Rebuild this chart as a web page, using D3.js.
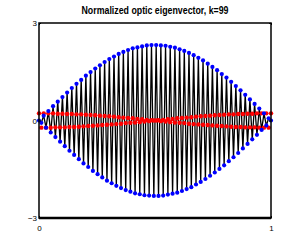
<!DOCTYPE html>
<html>
<head>
<meta charset="utf-8">
<script src="https://cdn.jsdelivr.net/npm/d3@7"></script>
<style>
  body { margin: 0; background: #fff; }
  svg { display: block; }
  .tick text { font-family: "Liberation Sans", Arial, sans-serif; font-size: 8px; }
</style>
</head>
<body>
<svg id="chart" width="300" height="245"></svg>
<script>
// blue component of eigenvector k=99
const blueValues = [
  0, -0.07, 0.15, -0.22, 0.29, -0.37, 0.44, -0.51, 0.58, -0.65,
  0.72, -0.79, 0.86, -0.93, 1.00, -1.06, 1.13, -1.19, 1.25, -1.32,
  1.38, -1.43, 1.49, -1.55, 1.60, -1.65, 1.70, -1.75, 1.80, -1.85,
  1.89, -1.93, 1.97, -2.01, 2.05, -2.08, 2.11, -2.14, 2.17, -2.19,
  2.22, -2.24, 2.25, -2.27, 2.28, -2.30, 2.31, -2.31, 2.32, -2.32,
  2.32, -2.32, 2.31, -2.31, 2.30, -2.28, 2.27, -2.25, 2.24, -2.22,
  2.19, -2.17, 2.14, -2.11, 2.08, -2.05, 2.01, -1.97, 1.93, -1.89,
  1.85, -1.80, 1.75, -1.70, 1.65, -1.60, 1.55, -1.49, 1.43, -1.38,
  1.32, -1.25, 1.19, -1.13, 1.06, -1.00, 0.93, -0.86, 0.79, -0.72,
  0.65, -0.58, 0.51, -0.44, 0.37, -0.29, 0.22, -0.15, 0.07, 0
];
// red component
const redValues = [
  0.22, -0.22, 0.22, -0.22, 0.22, -0.22, 0.22, -0.21, 0.21, -0.21,
  0.21, -0.21, 0.20, -0.20, 0.20, -0.20, 0.19, -0.19, 0.19, -0.18,
  0.18, -0.17, 0.17, -0.16, 0.16, -0.15, 0.15, -0.14, 0.14, -0.13,
  0.13, -0.12, 0.12, -0.11, 0.10, -0.10, 0.09, -0.08, 0.08, -0.07,
  0.07, -0.06, 0.05, -0.05, 0.04, -0.03, 0.02, -0.02, 0.01, 0.00,
  0.00, 0.01, -0.02, 0.02, -0.03, 0.04, -0.05, 0.05, -0.06, 0.07,
  -0.07, 0.08, -0.08, 0.09, -0.10, 0.10, -0.11, 0.12, -0.12, 0.13,
  -0.13, 0.14, -0.14, 0.15, -0.15, 0.16, -0.16, 0.17, -0.17, 0.18,
  -0.18, 0.19, -0.19, 0.19, -0.20, 0.20, -0.20, 0.20, -0.21, 0.21,
  -0.21, 0.21, -0.21, 0.22, -0.22, 0.22, -0.22, 0.22, -0.22, 0.22
];
const yTicks = [-3, 0, 3];
const xTicks = [0, 1];
const title = "Normalized optic eigenvector, k=99";

const n = blueValues.length;
const xValues = d3.range(n).map(i => i / (n - 1));

const svg = d3.select("#chart");
const mLeft = 39, mRight = 271, mTop = 23, mBottom = 218;

const x = d3.scaleLinear().domain([0, 1]).range([mLeft, mRight]);
const y = d3.scaleLinear().domain([-3, 3]).range([mBottom, mTop]);

svg.append("text")
  .attr("x", 155)
  .attr("y", 14)
  .attr("text-anchor", "middle")
  .attr("textLength", 147)
  .attr("lengthAdjust", "spacingAndGlyphs")
  .style("font-family", "Liberation Sans, Arial, sans-serif")
  .style("font-weight", "bold")
  .style("font-size", "11px")
  .text(title);

const blueLine = d3.line().x((d, i) => x(xValues[i])).y(d => y(d));

// black zigzag through the blue points
svg.append("path")
  .datum(blueValues)
  .attr("d", blueLine)
  .attr("fill", "none")
  .attr("stroke", "#000")
  .attr("stroke-width", 1.3);

svg.append("g")
  .selectAll("circle")
  .data(redValues)
  .join("circle")
  .attr("cx", (d, i) => x(xValues[i]))
  .attr("cy", d => y(d))
  .attr("r", 2.2)
  .attr("fill", "#ff0000");

svg.append("g")
  .selectAll("circle")
  .data(blueValues)
  .join("circle")
  .attr("cx", (d, i) => x(xValues[i]))
  .attr("cy", d => y(d))
  .attr("r", 2.1)
  .attr("fill", "#0000ff");

// axes box
svg.append("rect")
  .attr("x", mLeft).attr("y", mTop)
  .attr("width", mRight - mLeft).attr("height", mBottom - mTop)
  .attr("fill", "none").attr("stroke", "#000").attr("stroke-width", 1.5);

svg.append("g")
  .attr("transform", `translate(${mLeft},0)`)
  .call(d3.axisLeft(y).tickValues(yTicks).tickSize(-2).tickPadding(2).tickFormat(d3.format("d")))
  .call(g => g.select(".domain").remove());
svg.append("g")
  .attr("transform", `translate(${mRight},0)`)
  .call(d3.axisRight(y).tickValues(yTicks).tickSize(-2).tickFormat(""))
  .call(g => g.select(".domain").remove());
svg.append("g")
  .attr("transform", `translate(0,${mBottom})`)
  .call(d3.axisBottom(x).tickValues(xTicks).tickSize(-2).tickPadding(7).tickFormat(d3.format("d")))
  .call(g => g.select(".domain").attr("stroke-width", 2.5).attr("d", `M${mLeft},0H${mRight}`));
svg.append("g")
  .attr("transform", `translate(0,${mTop})`)
  .call(d3.axisTop(x).tickValues(xTicks).tickSize(-2).tickFormat(""))
  .call(g => g.select(".domain").remove());
</script>
</body>
</html>
